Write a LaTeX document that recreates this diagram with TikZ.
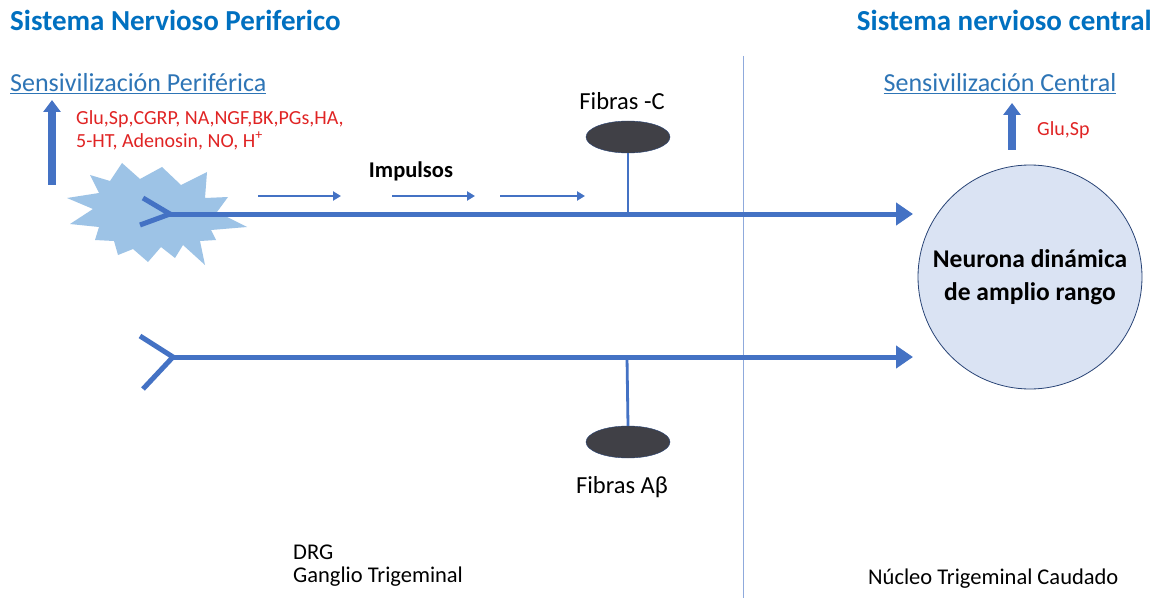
\documentclass[tikz,border=0pt]{standalone}
\usepackage{fontspec}
\setmainfont{Carlito}
\usetikzlibrary{arrows.meta, positioning, shapes.geometric}
\definecolor{titleblue}{RGB}{0,112,192}
\definecolor{linkblue}{RGB}{46,117,182}
\definecolor{fiberblue}{RGB}{68,114,196}
\definecolor{burst}{RGB}{157,195,230}
\definecolor{chemred}{RGB}{224,36,36}
\definecolor{somagray}{RGB}{64,64,70}
\definecolor{neurofill}{RGB}{218,227,243}
\definecolor{divider}{RGB}{143,170,220}
\newcommand{\sz}[2]{\fontsize{#1}{#2}\selectfont}

\begin{document}
\begin{tikzpicture}[x=1pt,y=-1pt,
	fiber/.style={draw=fiberblue,line width=5pt},
	mainarrow/.style={fiber,-{Triangle[length=17pt,width=22pt]}},
	impulse/.style={draw=fiberblue,line width=2.5pt,-{Triangle[length=8pt,width=9pt]}},
	bigup/.style={draw=fiberblue,line width=8pt,-{Triangle[length=12pt,width=17pt]}},
	stalk/.style={draw=fiberblue,line width=2.8pt},
	soma/.style={ellipse,fill=somagray,draw=fiberblue!60!black,minimum width=84pt,minimum height=32pt,inner sep=0pt},
	txt/.style={inner sep=0pt,text=black,font=\sz{22.5}{23}}]
	\useasboundingbox[fill=white] (0,0) rectangle (1157,607);

	% titles
	\node[anchor=west,inner sep=0pt,text=titleblue,font=\bfseries\sz{29}{32}] at (10,20) (titleP){Sistema Nervioso Periferico};
	\node[anchor=east,inner sep=0pt,text=titleblue,font=\bfseries\sz{29}{32}] at (1152,20) (titleC){Sistema nervioso central};
	\node[anchor=west,inner sep=0pt,text=linkblue,font=\sz{26}{28}] at (10,84) (sensP){\underline{Sensivilización Periférica}};
	\node[inner sep=0pt,text=linkblue,font=\sz{26}{28}] at (1000,84) (sensC){\underline{Sensivilización Central}};

	% divider
	\coordinate (divtop) at (743,56);
	\coordinate (divbot) at (743,598);
	\draw[divider,line width=1pt] (divtop) -- (divbot);

	% injury
	\fill[burst] (122,163) -- (140,179) -- (162,167) -- (181,185) -- (207,172) -- (205,198)
		-- (228,197) -- (217,212) -- (247,227) -- (211,230) -- (216,240) -- (200,241)
		-- (205,265) -- (183,245) -- (175,258) -- (161,247) -- (148,262) -- (133,249)
		-- (118,255) -- (114,241) -- (95,240) -- (99,227) -- (70,224) -- (93,209)
		-- (67,198) -- (99,193) -- (90,175) -- (110,181) -- cycle;

	% chemical mediators
	\node[anchor=west,inner sep=0pt,align=left,text=chemred,font=\sz{20}{23}] at (76,130) (chemP)
		{Glu,Sp,CGRP, NA,NGF,BK,PGs,HA,\\5-HT, Adenosin, NO, H\textsuperscript{+}};
	\node[anchor=west,inner sep=0pt,text=chemred,font=\sz{20}{23}] at (1037,130) (chemC){Glu,Sp};
	\coordinate (upPa) at (52,185);
	\coordinate (upPb) at (52,100);
	\coordinate (upCa) at (1012,150);
	\coordinate (upCb) at (1012,103);
	\draw[bigup] (upPa) -- (upPb);
	\draw[bigup] (upCa) -- (upCb);

	% neuron
	\node[circle,fill=neurofill,draw=fiberblue!60!black,line width=0.8pt,minimum size=224pt,
		align=center,font=\bfseries\sz{25.5}{33}] at (1030,277) (neuron){Neurona dinámica\\de amplio rango};

	% C fiber
	\coordinate (brC) at (170,214);
	\coordinate (dCa) at (143,198);
	\coordinate (dCb) at (140,225);
	\coordinate (endC) at (913,214);
	\coordinate (jC) at (628,214);
	\draw[fiber] (dCa) -- (brC) -- (dCb);
	\draw[mainarrow] (brC) -- (endC);
	\node[soma] at (628,137) (somaC){};
	\node[txt,font=\sz{24.5}{26}] at (622,101) (fibC){Fibras -C};
	\draw[stalk] (somaC.south) -- (jC);

	% impulses
	\node[inner sep=0pt,font=\bfseries\sz{22.5}{24}] at (411,171) (imp){Impulsos};
	\coordinate (i1a) at (258,196); \coordinate (i1b) at (341,196);
	\coordinate (i2a) at (392,196); \coordinate (i2b) at (475,196);
	\coordinate (i3a) at (500,196); \coordinate (i3b) at (585,196);
	\draw[impulse] (i1a) -- (i1b);
	\draw[impulse] (i2a) -- (i2b);
	\draw[impulse] (i3a) -- (i3b);

	% A-beta fiber
	\coordinate (brA) at (173,357);
	\coordinate (dAa) at (140,336);
	\coordinate (dAb) at (143,389);
	\coordinate (endA) at (913,357);
	\coordinate (jA) at (627,357);
	\draw[fiber] (dAa) -- (brA) -- (dAb);
	\draw[mainarrow] (brA) -- (endA);
	\node[soma] at (628,442) (somaA){};
	\node[txt,font=\sz{24.5}{26}] at (622,487) (fibA){Fibras Aβ};
	\draw[stalk] (jA) -- (somaA.north);

	% locations
	\node[txt,anchor=north west,align=left] at (293,545) (drg){DRG\\Ganglio Trigeminal};
	\node[txt,anchor=west] at (868,579) (nucleo){Núcleo Trigeminal Caudado};
\end{tikzpicture}
\end{document}
